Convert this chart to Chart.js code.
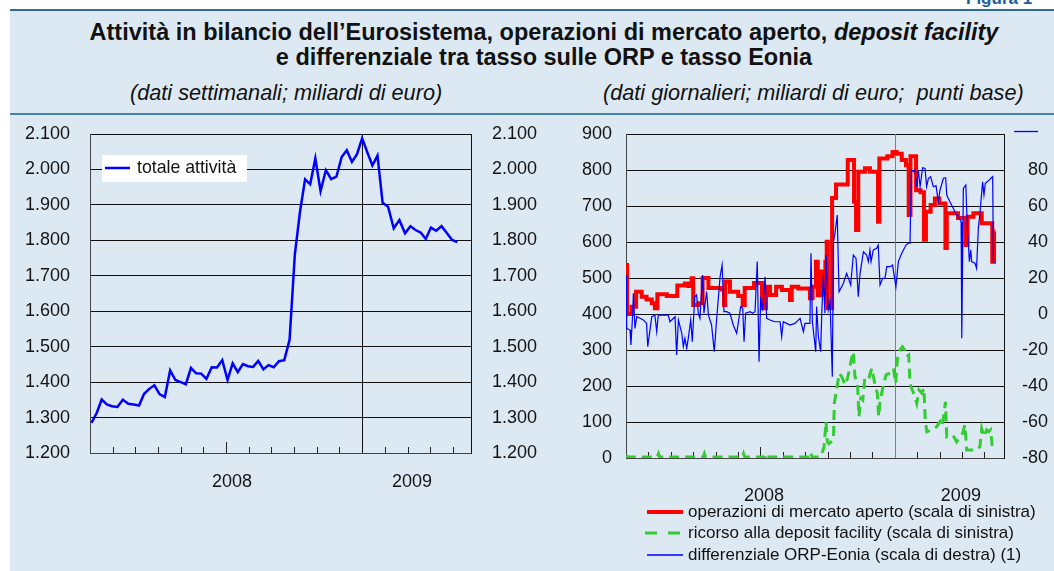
<!DOCTYPE html>
<html><head><meta charset="utf-8">
<script src="https://cdn.jsdelivr.net/npm/chart.js@4.4.1/dist/chart.umd.min.js"></script>
<style>
html,body{margin:0;padding:0;background:#fff;}
body{width:1054px;height:571px;position:relative;overflow:hidden;font-family:"Liberation Sans",Arial,sans-serif;color:#111;}
#panel{position:absolute;left:10px;top:9px;width:1044px;height:562px;background:#dde9f2;border-top:2px solid #2e6b8e;}
#fig{position:absolute;left:966px;top:-10px;font-weight:bold;font-size:17px;line-height:17px;color:#1b5c99;white-space:nowrap;}
#title{position:absolute;left:0;top:20px;width:1088px;text-align:center;font-weight:bold;font-size:23.5px;line-height:25px;}
.sub{position:absolute;top:82px;font-style:italic;font-size:21.7px;line-height:22px;white-space:nowrap;}
#sep{position:absolute;left:10px;top:113px;width:1044px;height:2px;background:#3f82ab;}
canvas{position:absolute;}
#c1{left:0;top:115px;}
#c2{left:560px;top:115px;}
.lrow{position:absolute;left:645px;height:20px;font-size:17px;line-height:20px;white-space:nowrap;}
.lrow svg{position:absolute;left:0;top:5px;}
.lrow span{position:absolute;left:43px;top:0;}
</style>
</head><body>
<div id="panel"></div>
<div id="fig">Figura 1</div>
<div id="title">Attività in bilancio dell’Eurosistema, operazioni di mercato aperto, <i>deposit facility</i><br>e differenziale tra tasso sulle ORP e tasso Eonia</div>
<div class="sub" style="left:130px;">(dati settimanali; miliardi di euro)</div>
<div class="sub" style="left:603px;">(dati giornalieri; miliardi di euro;&nbsp; punti base)</div>
<div id="sep"></div>
<canvas id="c1" width="560" height="400"></canvas>
<canvas id="c2" width="494" height="400"></canvas>
<div class="lrow" style="top:502px;"><svg width="40" height="10"><line x1="2" y1="5" x2="38" y2="5" stroke="#ff0000" stroke-width="4"/></svg><span id="lg0"></span></div>
<div class="lrow" style="top:523px;"><svg width="40" height="10"><line x1="0" y1="5" x2="38" y2="5" stroke="#33cc33" stroke-width="3" stroke-dasharray="12,11"/></svg><span id="lg1"></span></div>
<div class="lrow" style="top:545px;"><svg width="40" height="10"><line x1="2" y1="5" x2="38" y2="5" stroke="#0000ff" stroke-width="1.3"/></svg><span id="lg2"></span></div>
<script>
// ---------------- DATA ----------------
const yearLabels = ['2008', '2009'];
const monthTicks = [0,1,2,3,4,5,6,7,8,9,10,11,12,13,14,15,16];

// Left chart: weekly data (billions of euro)
const weekStart = '2008-01-03';
const totaleAttivita = [1285,1312,1351,1337,1332,1330,1350,1339,1337,1334,1367,1381,1391,1366,1358,1433,1406,1400,1394,1440,
  1425,1424,1409,1442,1441,1462,1406,1453,1428,1451,1445,1443,1460,1436,1448,1442,1459,1462,1519,1760,
  1880,1972,1958,2031,1939,1998,1973,1980,2035,2054,2021,2043,2088,2049,2011,2039,1906,1895,1834,1857,
  1820,1840,1829,1822,1804,1836,1827,1840,1821,1801,1795];
const leftLegend = 'totale attività';

// Right chart: daily data; time in months since 1 Jan 2008
const opMonth = [0,0.045,0.25,0.45,0.70,0.92,1.15,1.29,1.40,1.82,2.29,2.63,2.78,2.93,3.0,3.23,3.42,3.68,4.27,4.375,
  4.43,4.64,5.01,5.21,5.30,5.71,6.07,6.25,6.43,6.70,6.96,7.32,7.40,7.69,8.21,8.33,8.48,8.56,8.74,8.82,
  8.90,8.96,9.01,9.20,9.375,9.90,10.18,10.27,10.37,10.67,10.89,11.25,11.31,11.67,11.90,12.08,12.31,12.50,12.62,12.70,
  12.95,13.15,13.30,13.39,13.60,13.79,13.99,14.26,14.32,14.82,15.16,15.25,15.51,15.88,16.35,16.43,16.48];
const opValue = [536,400,420,462,448,440,430,416,455,450,479,485,478,499,425,430,500,472,468,425,
  490,462,450,425,472,486,416,476,453,476,467,439,476,471,444,476,545,452,518,460,
  545,601,417,722,760,828,712,633,795,805,795,656,832,838,850,845,828,813,675,838,
  744,738,606,684,703,721,707,583,680,667,592,670,680,652,545,629,629];

const dfMonth = [0,0.1,1.4,1.45,1.5,3.45,3.5,3.55,5.2,5.25,5.3,6.2,6.25,6.3,8.2,8.25,8.3,8.66,8.75,8.84,
  8.93,8.99,9.05,9.26,9.30,9.40,9.52,9.64,9.78,9.88,9.97,10.07,10.15,10.22,10.33,10.40,10.48,10.57,10.66,10.82,
  10.97,11.12,11.22,11.28,11.34,11.46,11.61,11.79,11.94,12.04,12.12,12.23,12.34,12.44,12.53,12.62,12.68,12.78,12.87,12.98,
  13.08,13.21,13.30,13.36,13.43,13.65,13.87,14.02,14.11,14.21,14.26,14.32,14.50,14.64,14.76,14.91,15.03,15.13,15.21,15.43,
  15.65,15.80,15.88,15.98,16.10,16.19,16.28,16.35,16.43];
const dfValue = [6,3,3,12,3,3,12,3,3,12,3,3,12,3,3,15,3,3,13,31,
  101,45,40,50,152,189,235,225,203,220,244,277,295,226,212,115,166,161,221,217,
  249,203,180,115,157,194,231,236,249,207,277,300,309,300,282,286,207,189,175,152,
  189,180,194,106,73,78,87,101,87,129,156,59,64,59,45,59,69,92,22,22,
  22,31,82,59,78,73,78,31,18];

const spMonth = [0,0.03,0.18,0.22,0.30,0.33,0.40,0.48,0.63,0.77,0.92,0.97,1.04,1.15,1.29,1.37,1.44,1.67,1.89,1.96,
  2.19,2.26,2.34,2.49,2.56,2.63,2.71,2.78,2.89,2.96,3.07,3.15,3.23,3.30,3.42,3.48,3.60,3.68,3.82,3.94,
  4.05,4.20,4.29,4.375,4.49,4.64,4.79,4.94,5.01,5.12,5.21,5.27,5.34,5.54,5.65,5.76,5.86,5.94,6.01,6.10,
  6.21,6.28,6.43,6.65,6.88,6.95,7.02,7.17,7.32,7.54,7.77,7.92,7.99,8.21,8.26,8.32,8.47,8.51,8.59,8.69,
  8.74,8.81,8.88,8.93,9.03,9.11,9.21,9.26,9.33,9.43,9.51,9.63,9.70,9.85,9.93,10.03,10.15,10.27,10.37,10.45,
  10.60,10.74,10.82,10.89,10.94,11.04,11.19,11.26,11.34,11.46,11.56,11.64,11.79,11.90,12.05,12.16,12.31,12.50,12.60,12.68,
  12.74,12.83,12.90,12.98,13.05,13.13,13.24,13.35,13.42,13.50,13.60,13.72,13.84,13.94,14.02,14.17,14.27,14.32,14.46,14.61,
  14.76,14.88,14.96,14.99,15.06,15.17,15.24,15.33,15.39,15.43,15.58,15.65,15.73,15.80,15.92,15.98,16.04,16.13,16.21,16.29,
  16.37,16.40,16.46];
const spValue = [21.7,-8.0,-8.9,-17.2,0.4,11.5,-8.0,-1.5,-2.4,-3.3,-5.2,-18.1,-11.7,-1.5,-0.6,-9.8,-0.6,-0.6,-0.6,-4.3,
  -1.5,-22.8,-3.3,-10.7,-18.1,-13.5,-19.1,-13.5,-3.3,-15.4,9.6,10.6,0.4,-2.4,21.7,0.4,12.4,-0.6,-6.1,-20.9,
  -2.4,20.7,27.2,1.3,1.3,0.4,-6.1,-10.7,-5.2,4.1,3.2,-15.4,0.4,1.3,0.4,1.3,29.1,-26.5,7.8,3.1,
  20.7,-2.4,-3.3,-4.3,-4.3,-12.6,-4.3,-5.2,-6.1,-5.2,-2.4,-9.8,-5.2,-5.2,33.7,-4.3,-20.9,4.1,-12.6,-20.9,
  0.4,21.7,0.4,32.8,2.2,6.9,-34.8,40.2,44.8,55.0,12.4,15.2,17.0,22.6,19.8,16.1,32.8,30.9,9.6,22.6,
  34.6,32.8,29.1,35.6,29.1,35.6,36.5,38.3,16.1,19.8,19.8,26.3,26.3,27.2,15.2,29.1,33.7,38.3,39.3,39.3,
  80.0,79.1,80.0,70.7,80.0,70.7,81.3,80.9,70.7,75.4,76.3,70.7,71.3,62.4,68.9,75.4,75.7,66.1,62.4,58.7,
  55.0,53.2,51.3,-13.5,69.8,71.7,47.6,29.1,35.6,29.1,28.2,25.4,47.6,55.9,73.5,66.1,72.6,73.5,74.4,75.4,
  76.3,29.1,28.2];

const seriesNames = ['operazioni di mercato aperto (scala di sinistra)',
  'ricorso alla deposit facility (scala di sinistra)',
  'differenziale ORP-Eonia (scala di destra) (1)'];

// ---------------- HELPERS ----------------
const FONT = '"Liberation Sans", Arial, sans-serif';
const TXT = '#141414';
function monthPos(d) {
  const y = d.getUTCFullYear(), m = d.getUTCMonth(), day = d.getUTCDate();
  const dim = new Date(Date.UTC(y, m + 1, 0)).getUTCDate();
  return (y - 2008) * 12 + m + (day - 1) / dim;
}
const weekDates = totaleAttivita.map((_, i) => {
  const d = new Date(weekStart + 'T00:00:00Z'); d.setUTCDate(d.getUTCDate() + 7 * i); return d;
});
function fmt(v) {
  const s = Math.abs(v).toString().replace(/\B(?=(\d{3})+(?!\d))/g, '.');
  return (v < 0 ? '-' : '') + s;
}
const pairs = (xs, ys) => xs.map((x, i) => ({ x: x, y: ys[i] }));

const insideTicks = {
  id: 'insideTicks',
  beforeDatasetsDraw(chart, args, o) {
    const { ctx, chartArea: a, scales: { x } } = chart;
    ctx.save();
    const xl = Math.round(x.getPixelForValue(12)) + 0.5;
    ctx.strokeStyle = o.lineColor; ctx.lineWidth = 1;
    ctx.beginPath(); ctx.moveTo(xl, a.top); ctx.lineTo(xl, a.bottom); ctx.stroke();
    ctx.strokeStyle = '#222'; ctx.lineWidth = 1;
    monthTicks.forEach(m => {
      if (m === 0 || m === 12) return;
      const px = Math.round(x.getPixelForValue(m)) + 0.5;
      const len = m === 6 ? 11 : 6;
      ctx.beginPath(); ctx.moveTo(px, a.bottom); ctx.lineTo(px, a.bottom - len); ctx.stroke();
    });
    ctx.restore();
  }
};

const boxLegend = {
  id: 'boxLegend',
  afterDraw(chart) {
    const { ctx, chartArea: a, scales: { y } } = chart;
    const yc = Math.round(y.getPixelForValue(2000));
    ctx.save();
    ctx.fillStyle = '#fff';
    ctx.fillRect(a.left + 12, yc - 14, 145, 27);
    ctx.strokeStyle = '#0000ff'; ctx.lineWidth = 2.5;
    ctx.beginPath(); ctx.moveTo(a.left + 15, yc - 1); ctx.lineTo(a.left + 40, yc - 1); ctx.stroke();
    ctx.fillStyle = TXT; ctx.font = '17.7px ' + FONT; ctx.textBaseline = 'middle';
    ctx.fillText(chart.data.datasets[0].label, a.left + 47, yc - 1);
    ctx.restore();
  }
};

const topDash = {
  id: 'topDash',
  afterDraw(chart) {
    const { ctx, chartArea: a, scales: { y2 } } = chart;
    const py = Math.round(y2.getPixelForValue(100)) - 2.5;
    ctx.save(); ctx.strokeStyle = '#0000ff'; ctx.lineWidth = 1.3;
    ctx.beginPath(); ctx.moveTo(a.right + 10, py); ctx.lineTo(a.right + 34, py); ctx.stroke();
    ctx.restore();
  }
};

const tickFont = { family: FONT, size: 18 };
// invisible tick marks used only as label offset (keeps plot top where it belongs)
const yGrid = (len, onArea) => ({ color: '#111', lineWidth: 1, drawOnChartArea: onArea, drawTicks: true,
  tickLength: len, tickColor: 'rgba(0,0,0,0)' });

// ---------------- LEFT CHART ----------------
new Chart(document.getElementById('c1'), {
  type: 'line',
  data: { datasets: [{
    label: leftLegend,
    data: weekDates.map((d, i) => ({ x: monthPos(d), y: totaleAttivita[i] })),
    borderColor: '#0000ff', borderWidth: 2.5, pointRadius: 0, tension: 0, fill: false
  }]},
  options: {
    responsive: false, animation: false,
    layout: { padding: { top: 19, left: 0, right: 0, bottom: 0 } },
    plugins: { legend: { display: false }, tooltip: { enabled: false }, insideTicks: { lineColor: '#111' } },
    scales: {
      x: { type: 'linear', min: 0, max: 16.8,
        afterBuildTicks: s => { s.ticks = [{ value: 6.26 }, { value: 14.2 }]; },
        ticks: { callback: (v, i) => yearLabels[i], font: tickFont, color: TXT, padding: 10, maxRotation: 0, autoSkip: false },
        grid: { display: false }, border: { display: true, color: '#444', width: 1 },
        afterFit: s => { s.height = 62; } },
      y: { position: 'left', min: 1200, max: 2100,
        ticks: { stepSize: 100, callback: fmt, font: tickFont, color: TXT, padding: 0 },
        grid: yGrid(20, true), border: { color: '#444', width: 1 },
        afterFit: s => { s.width = 90; } },
      y2: { position: 'right', min: 1200, max: 2100,
        ticks: { stepSize: 100, callback: fmt, font: tickFont, color: TXT, padding: 0 },
        grid: yGrid(21, false), border: { color: '#111', width: 1 },
        afterFit: s => { s.width = 89; } }
    }
  },
  plugins: [insideTicks, boxLegend]
});

// ---------------- RIGHT CHART ----------------
new Chart(document.getElementById('c2'), {
  type: 'line',
  data: { datasets: [
    { label: seriesNames[0], data: pairs(opMonth, opValue), yAxisID: 'y', borderColor: '#ff0000', borderWidth: 4,
      stepped: true, pointRadius: 0, fill: false, order: 2 },
    { label: seriesNames[1], data: pairs(dfMonth, dfValue), yAxisID: 'y', borderColor: '#33cc33', borderWidth: 3,
      borderDash: [10, 6], pointRadius: 0, tension: 0, fill: false, order: 1 },
    { label: seriesNames[2], data: pairs(spMonth, spValue), yAxisID: 'y2', borderColor: '#0000ff', borderWidth: 1.2,
      pointRadius: 0, tension: 0, fill: false, order: 0 }
  ]},
  options: {
    responsive: false, animation: false,
    layout: { padding: { top: 19, left: 0, right: 6, bottom: 0 } },
    plugins: { legend: { display: false }, tooltip: { enabled: false }, insideTicks: { lineColor: '#808080' } },
    scales: {
      x: { type: 'linear', min: 0, max: 16.875,
        afterBuildTicks: s => { s.ticks = [{ value: 6.16 }, { value: 14.95 }]; },
        ticks: { callback: (v, i) => yearLabels[i], font: tickFont, color: TXT, padding: 19, maxRotation: 0, autoSkip: false },
        grid: { display: false }, border: { display: true, color: '#444', width: 1 },
        afterFit: s => { s.height = 57; } },
      y: { position: 'left', min: 0, max: 900,
        ticks: { stepSize: 100, callback: fmt, font: tickFont, color: TXT, padding: 0 },
        grid: yGrid(14, true), border: { color: '#444', width: 1 },
        afterFit: s => { s.width = 66; } },
      y2: { position: 'right', min: -80, max: 100,
        ticks: { stepSize: 20, callback: v => (v === 100 ? '' : fmt(v)), font: tickFont, color: TXT, padding: 0, crossAlign: 'far' },
        grid: yGrid(10, false), border: { color: '#111', width: 1 },
        afterFit: s => { s.width = 44; } }
    }
  },
  plugins: [insideTicks, topDash]
});

seriesNames.forEach((n, i) => { document.getElementById('lg' + i).textContent = n; });
</script>
</body></html>
